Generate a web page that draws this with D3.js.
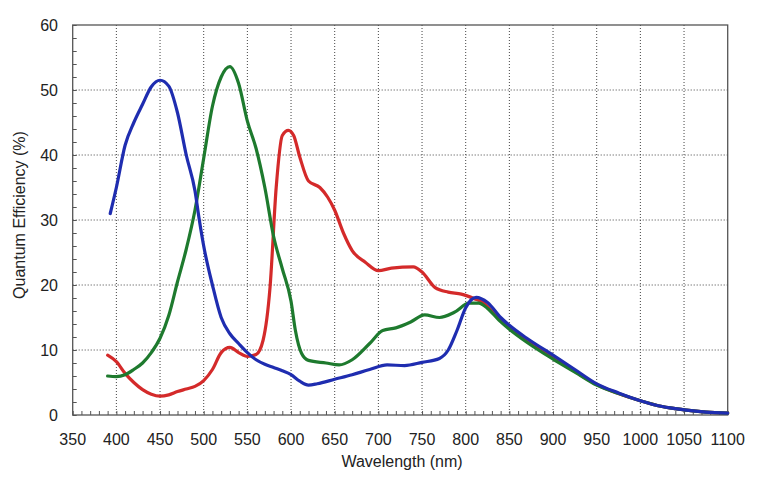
<!DOCTYPE html>
<meta charset='utf-8'>
<html>
<head>
    <title>Quantum Efficiency</title>
    <script src='https://d3js.org/d3.v7.min.js'></script>
    <style>
        html, body { margin: 0; padding: 0; background: #fff; }
        svg { display: block; font-family: 'Liberation Sans', Arial, sans-serif; }
    </style>
</head>
<body>
<script>
    const width = 759;
    const height = 477;

    // Tick labels
    const xTicks = [350, 400, 450, 500, 550, 600, 650, 700, 750, 800, 850, 900, 950, 1000, 1050, 1100];
    const yTicks = [0, 10, 20, 30, 40, 50, 60];

    // Blue channel
    const blueNm = [393, 400, 410, 420, 430, 440, 450, 460, 470, 480, 490, 495, 500, 510, 520, 530, 540, 550, 560, 570, 580, 590, 600, 610, 620, 630, 650, 670, 690, 710, 730, 750, 770, 780, 790, 800, 812, 825, 840, 850, 870, 900, 925, 950, 975, 1000, 1025, 1050, 1075, 1100];
    const blueQE = [31, 35, 41.5, 45, 47.8, 50.5, 51.5, 50.6, 46.5, 40, 34.5, 30, 26, 20, 15, 12.5, 11, 9.6, 8.5, 7.8, 7.3, 6.8, 6.2, 5.2, 4.6, 4.8, 5.5, 6.2, 7, 7.7, 7.6, 8.1, 8.7, 10, 13, 16.5, 18.1, 17.3, 15, 13.8, 11.8, 9.2, 7, 4.8, 3.4, 2.2, 1.3, 0.8, 0.45, 0.3];

    // Green channel
    const greenNm = [390, 400, 410, 420, 430, 440, 450, 460, 470, 480, 490, 500, 510, 520, 530, 540, 550, 560, 570, 580, 590, 600, 605, 612, 620, 640, 655, 670, 690, 705, 720, 737, 753, 770, 787, 804, 815, 825, 838, 850, 870, 900, 925, 950, 975, 1000, 1025, 1050, 1075, 1100];
    const greenQE = [6, 5.9, 6.2, 7, 8, 9.6, 11.8, 15.3, 20.5, 25.5, 31.5, 39.5, 47.5, 52, 53.6, 51, 45.2, 41, 35, 27.5, 22.5, 17.5, 13, 9.5, 8.4, 8, 7.7, 8.5, 11, 13, 13.4, 14.3, 15.4, 15, 15.8, 17.2, 17.2, 16.4, 14.6, 13.2, 11.2, 8.6, 6.6, 4.6, 3.3, 2.2, 1.3, 0.8, 0.45, 0.3];

    // Red channel
    const redNm = [390, 400, 410, 420, 430, 440, 450, 460, 470, 480, 490, 500, 510, 520, 530, 540, 550, 560, 568, 576, 583, 590, 597, 603, 610, 620, 633, 642, 650, 660, 670, 685, 700, 715, 740, 750, 765, 780, 795, 810, 820, 835, 850, 870, 900, 925, 950, 975, 1000, 1025, 1050, 1075, 1100];
    const redQE = [9.2, 8.2, 6.4, 5, 3.9, 3.2, 2.9, 3.1, 3.6, 4, 4.4, 5.3, 7, 9.6, 10.4, 9.6, 9, 9.3, 11.5, 19.7, 35, 43, 43.8, 43, 39.7, 36, 35, 33.5, 31.5, 28, 25.3, 23.5, 22.2, 22.6, 22.8, 22, 19.6, 18.9, 18.6, 17.9, 17.3, 15.2, 13.4, 11.4, 8.8, 6.7, 4.7, 3.3, 2.2, 1.3, 0.8, 0.45, 0.3];

    const plotLeft = 72.7, plotRight = 727.7, plotTop = 25, plotBottom = 415;

    const x = d3.scaleLinear().domain([350, 1100]).range([plotLeft, plotRight]);
    const y = d3.scaleLinear().domain([0, 60]).range([plotBottom, plotTop]);

    const svg = d3.select('body').append('svg')
        .attr('width', width)
        .attr('height', height);

    // dotted grid
    const grid = svg.append('g')
        .attr('stroke', '#444')
        .attr('stroke-width', 1)
        .attr('stroke-dasharray', '1,2');

    grid.selectAll('line.vx')
        .data(xTicks.filter(d => d > 350 && d < 1100))
        .enter().append('line')
        .attr('x1', d => x(d)).attr('x2', d => x(d))
        .attr('y1', plotTop).attr('y2', plotBottom);

    grid.selectAll('line.hy')
        .data(yTicks.filter(d => d > 0 && d < 60))
        .enter().append('line')
        .attr('x1', plotLeft).attr('x2', plotRight)
        .attr('y1', d => y(d)).attr('y2', d => y(d));

    // axes (minor ticks point inside)
    const xAxis = svg.append('g')
        .attr('transform', 'translate(0,' + plotBottom + ')')
        .call(d3.axisTop(x).tickValues(d3.range(350, 1101, 10)).tickSize(4).tickFormat(''));
    xAxis.select('.domain').remove();

    const yAxis = svg.append('g')
        .attr('transform', 'translate(' + plotLeft + ',0)')
        .call(d3.axisRight(y).tickValues(d3.range(0, 61, 2)).tickSize(4).tickFormat(''));
    yAxis.select('.domain').remove();
    svg.selectAll('.tick line').attr('stroke', '#555');

    // frame
    svg.append('rect')
        .attr('x', plotLeft).attr('y', plotTop)
        .attr('width', plotRight - plotLeft).attr('height', plotBottom - plotTop)
        .attr('fill', 'none')
        .attr('stroke', '#555')
        .attr('stroke-width', 1.3);

    // tick labels
    svg.append('g').selectAll('text')
        .data(xTicks)
        .enter().append('text')
        .attr('x', d => x(d))
        .attr('y', 445)
        .attr('text-anchor', 'middle')
        .style('font-size', '16px')
        .attr('fill', '#222')
        .text(d => d);

    svg.append('g').selectAll('text')
        .data(yTicks)
        .enter().append('text')
        .attr('x', 58)
        .attr('y', d => y(d) + 5.5)
        .attr('text-anchor', 'end')
        .style('font-size', '16px')
        .attr('fill', '#222')
        .text(d => d);

    // axis titles
    svg.append('text')
        .attr('x', 402)
        .attr('y', 467)
        .attr('text-anchor', 'middle')
        .style('font-size', '16px')
        .attr('fill', '#222')
        .text('Wavelength (nm)');

    svg.append('text')
        .attr('transform', 'translate(25,215) rotate(-90)')
        .attr('text-anchor', 'middle')
        .style('font-size', '16px')
        .attr('fill', '#222')
        .text('Quantum Efficiency (%)');

    // curves
    const line = d3.line()
        .x(d => x(d[0]))
        .y(d => y(d[1]))
        .curve(d3.curveMonotoneX);

    const series = [
        { nm: redNm, qe: redQE, color: '#d42a2a' },
        { nm: greenNm, qe: greenQE, color: '#1e7a2e' },
        { nm: blueNm, qe: blueQE, color: '#1f2db0' }
    ];

    svg.append('g').selectAll('path')
        .data(series)
        .enter().append('path')
        .attr('d', s => line(d3.zip(s.nm, s.qe)))
        .attr('fill', 'none')
        .attr('stroke', s => s.color)
        .attr('stroke-width', 3.2)
        .attr('stroke-linejoin', 'round')
        .attr('stroke-linecap', 'round');
</script>
</body>
</html>
